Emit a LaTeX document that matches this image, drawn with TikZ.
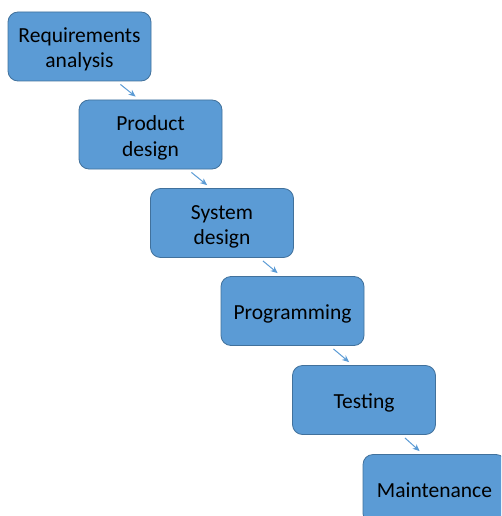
\documentclass[tikz,border=0pt]{standalone}
\usepackage{fontspec}
\setmainfont{Carlito}
\usetikzlibrary{calc,arrows.meta}
\definecolor{stagefill}{HTML}{5B9BD5}
\definecolor{stageborder}{HTML}{41719C}
\begin{document}
\begin{tikzpicture}[
  x=1pt, y=-1pt,
  stage/.style={rectangle, rounded corners=10pt, draw=stageborder, line width=0.8pt,
    fill=stagefill, minimum width=143pt, minimum height=69pt, inner sep=0pt,
    align=center, font=\fontsize{21.5}{25}\selectfont,
    text height=21pt, text depth=5pt},
  twoline/.style={stage, text height=48pt},
  flow/.style={draw=stagefill, line width=1pt, -{Stealth[length=7pt,width=6pt]}}
]
\useasboundingbox (0,0) rectangle (501,516);
\clip (0,0) rectangle (501,516);

% the six stages, stepping down to the right
\node[twoline] (req)  at (79.5,46.5)   {Requirements\\analysis};
\node[twoline] (prod) at (150.5,134.5) {Product\\design};
\node[twoline] (sys)  at (222,223)     {System\\design};
\node[stage] (prog)   at (292.5,311)   {Programming};
\node[stage] (test)   at (364,400)     {Testing};
\node[stage] (maint)  at (434.5,489)   {Maintenance};

% small arrows between neighbouring stages
\foreach \a/\b in {req/prod, prod/sys, sys/prog, prog/test, test/maint}
  \draw[flow] ($(\a.south east)+(-31,3)$) -- ($(\b.north west)+(57,-3)$);
\end{tikzpicture}
\end{document}
